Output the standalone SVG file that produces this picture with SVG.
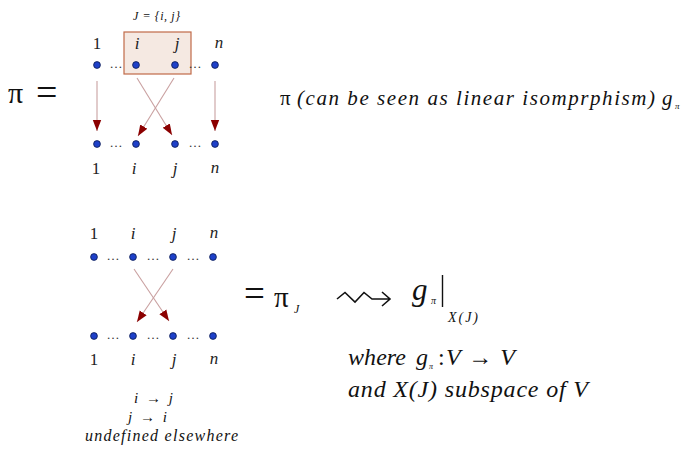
<svg xmlns="http://www.w3.org/2000/svg" width="695" height="452" viewBox="0 0 695 452" font-family="Liberation Serif, DejaVu Serif, serif">
<defs>
<marker id="ah" viewBox="0 0 10 10" refX="10" refY="5" markerWidth="11" markerHeight="11" markerUnits="userSpaceOnUse" orient="auto">
<path d="M0,1.2 L10,5 L0,8.8 Z" fill="#8b0000"/>
</marker>
<style>
.dot{fill:#1e40c8;stroke:#0a1a50;stroke-width:0.8}
.lbl{fill:#222}
.it{font-style:italic}
.ell{fill:#333;text-anchor:middle}
.arr{stroke:#c9a0a0;stroke-width:1.1;fill:none;marker-end:url(#ah)}
.txt{fill:#111}
</style>
</defs>
<rect width="695" height="452" fill="#fff"/>

<g id="top-diagram">
<text class="txt" x="8" y="103" font-size="30">π</text>
<text class="txt" x="36" y="105" font-size="38">=</text>
<text class="txt it" x="133" y="20" font-size="12" textLength="47" lengthAdjust="spacing">J = {i, j}</text>
<rect x="124" y="32" width="67" height="42" fill="#f5e9e2" stroke="#c06a48" stroke-width="1.2"/>
<g font-size="17" text-anchor="middle">
<text class="lbl" x="97" y="49">1</text>
<text class="lbl it" x="137" y="49">i</text>
<text class="lbl it" x="177" y="49">j</text>
<text class="lbl it" x="219" y="48">n</text>
<text class="lbl" x="96" y="174">1</text>
<text class="lbl it" x="134" y="174">i</text>
<text class="lbl it" x="175" y="174">j</text>
<text class="lbl it" x="215" y="173">n</text>
</g>
<circle class="dot" cx="97" cy="65" r="3.4"/>
<circle class="dot" cx="136" cy="65" r="3.4"/>
<circle class="dot" cx="175" cy="65" r="3.4"/>
<circle class="dot" cx="215" cy="65" r="3.4"/>
<circle class="dot" cx="97" cy="144" r="3.4"/>
<circle class="dot" cx="136" cy="144" r="3.4"/>
<circle class="dot" cx="175" cy="144" r="3.4"/>
<circle class="dot" cx="215" cy="144" r="3.4"/>
<g font-size="13">
<text class="ell" x="116" y="68">…</text>
<text class="ell" x="195" y="68">…</text>
<text class="ell" x="116" y="147">…</text>
<text class="ell" x="195" y="147">…</text>
</g>
</g>

<g id="top-connectors">
<line class="arr" x1="97" y1="81" x2="97" y2="131"/>
<line class="arr" x1="215" y1="81" x2="215" y2="131"/>
<line class="arr" x1="137" y1="78" x2="172" y2="135"/>
<line class="arr" x1="174" y1="78" x2="138" y2="136"/>
</g>

<g id="top-caption">
<text class="txt" x="280" y="105" font-size="21">π</text>
<text class="txt it" x="297" y="105" font-size="21" textLength="358" lengthAdjust="spacing">(can be seen as linear isomprphism)</text>
<text class="txt it" x="662" y="105" font-size="21">g</text>
<text class="txt it" x="675" y="109" font-size="9">π</text>
</g>

<g id="bottom-diagram">
<g font-size="17" text-anchor="middle">
<text class="lbl" x="94" y="239">1</text>
<text class="lbl it" x="133" y="239">i</text>
<text class="lbl it" x="174" y="239">j</text>
<text class="lbl it" x="214" y="238">n</text>
<text class="lbl" x="94" y="365">1</text>
<text class="lbl it" x="133" y="365">i</text>
<text class="lbl it" x="174" y="365">j</text>
<text class="lbl it" x="214" y="364">n</text>
</g>
<circle class="dot" cx="94" cy="257" r="3.4"/>
<circle class="dot" cx="133" cy="257" r="3.4"/>
<circle class="dot" cx="173" cy="257" r="3.4"/>
<circle class="dot" cx="213" cy="257" r="3.4"/>
<circle class="dot" cx="94" cy="336" r="3.4"/>
<circle class="dot" cx="133" cy="336" r="3.4"/>
<circle class="dot" cx="173" cy="336" r="3.4"/>
<circle class="dot" cx="213" cy="336" r="3.4"/>
<g font-size="13">
<text class="ell" x="113" y="260">…</text>
<text class="ell" x="153" y="260">…</text>
<text class="ell" x="193" y="260">…</text>
<text class="ell" x="113" y="339">…</text>
<text class="ell" x="153" y="339">…</text>
<text class="ell" x="193" y="339">…</text>
</g>
</g>

<g id="bottom-connectors">
<line class="arr" x1="134" y1="269" x2="169" y2="321"/>
<line class="arr" x1="173" y1="269" x2="137" y2="322"/>
</g>

<g id="bottom-rules" font-size="15">
<text class="txt it" x="134" y="403" textLength="39" lengthAdjust="spacing">i → j</text>
<text class="txt it" x="128" y="422" textLength="39" lengthAdjust="spacing">j → i</text>
<text class="txt it" x="85" y="441" font-size="16" textLength="153" lengthAdjust="spacing">undefined elsewhere</text>
</g>

<g id="restriction">
<text class="txt" x="244" y="306" font-size="37">=</text>
<text class="txt" x="274" y="307" font-size="29">π</text>
<text class="txt it" x="294" y="313" font-size="12">J</text>
<path d="M337,299 L345,292.5 L355,302 L364,292.5 L372,299 L389,299 M382,292 L390,299 L382,306" fill="none" stroke="#111" stroke-width="1.6" stroke-linejoin="miter"/>
<text class="txt it" x="412" y="300" font-size="31">g</text>
<text class="txt it" x="431" y="304" font-size="10">π</text>
<line x1="442.5" y1="275" x2="442.5" y2="307" stroke="#111" stroke-width="1.4"/>
<text class="txt it" x="448" y="322" font-size="14" textLength="30" lengthAdjust="spacing">X(J)</text>
</g>

<g id="where-text" font-size="24">
<text class="txt it" x="348" y="365" textLength="58" lengthAdjust="spacing">where</text>
<text class="txt it" x="416" y="365">g</text>
<text class="txt it" x="429" y="369" font-size="8">π</text>
<text class="txt" x="438" y="365">:</text>
<text class="txt it" x="446" y="365" textLength="69" lengthAdjust="spacing">V → V</text>
<text class="txt it" x="348" y="397" textLength="240" lengthAdjust="spacing">and X(J) subspace of V</text>
</g>
</svg>
